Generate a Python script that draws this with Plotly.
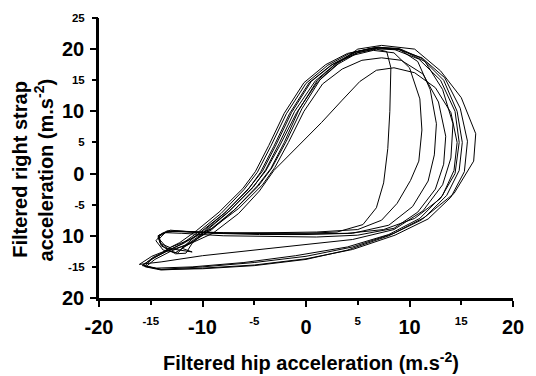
import plotly.graph_objects as go

# ---- data: ten successive cycles (hip acceleration x, strap acceleration y) ----
c1_x = [-13.0,-11.2,-9.1,-6.9,-4.7,-3.4,-2.1,-0.7,1.1,3.0,4.9,6.8,7.8,8.2,8.1,7.9,7.5,6.8,5.5,3.0,0.0,-4.0,-8.0,-11.5,-13.4,-14.3,-14.0,-13.2]
c1_y = [-11.8,-10.6,-8.8,-5.8,-2.0,0.8,5.0,10.2,15.0,17.8,19.4,20.0,19.6,17.0,10.0,4.0,-1.5,-5.5,-8.2,-9.4,-9.6,-9.6,-9.5,-9.3,-9.3,-10.2,-11.4,-12.4]
c2_x = [-12.4,-11.6,-10.2,-7.9,-5.6,-4.4,-3.1,-1.6,0.3,2.4,4.5,6.5,8.5,10.0,11.0,11.2,10.9,10.1,8.8,7.3,5.0,1.0,-3.0,-7.0,-11.0,-13.1,-14.2,-14.0,-12.6]
c2_y = [-12.8,-11.4,-9.4,-6.4,-2.6,0.2,4.4,9.6,14.6,17.4,19.0,19.8,19.4,17.0,12.0,7.0,2.0,-1.1,-4.8,-7.5,-9.0,-9.4,-9.5,-9.6,-9.4,-9.1,-9.9,-11.6,-12.9]
c3_x = [-11.6,-11.0,-9.6,-7.4,-5.1,-3.9,-2.6,-1.1,0.9,2.9,4.9,7.0,9.0,10.8,12.0,12.6,12.4,11.8,10.3,8.0,4.5,0.0,-4.5,-9.0,-12.5,-13.9,-14.5,-13.8]
c3_y = [-12.8,-11.2,-9.0,-6.0,-2.2,0.6,4.8,10.0,14.9,17.7,19.6,20.3,20.0,18.0,13.5,8.0,3.0,-1.2,-5.3,-8.3,-9.6,-9.8,-9.8,-9.6,-9.2,-9.6,-10.8,-12.3]
c4_x = [-12.6,-10.8,-8.9,-6.5,-4.2,-3.0,-1.7,-0.2,1.6,3.5,5.4,7.3,9.2,11.3,12.8,13.5,13.3,12.5,10.8,8.5,5.0,1.0,-3.5,-8.0,-12.0,-13.6,-14.2,-13.4,-11.0]
c4_y = [-12.7,-10.8,-8.6,-5.6,-1.8,1.0,5.0,10.0,14.4,16.8,18.2,18.6,18.2,16.0,11.5,6.0,1.5,-2.5,-6.2,-8.8,-9.9,-10.2,-10.1,-10.0,-9.6,-9.5,-10.5,-12.0,-12.6]
c5_x = [-12.0,-11.4,-9.7,-7.5,-5.2,-3.9,-2.5,-0.9,1.1,3.1,5.0,7.0,9.2,11.5,13.2,14.2,14.0,13.2,11.3,8.5,4.5,0.0,-5.0,-10.0,-14.0,-16.1,-14.9,-13.4]
c5_y = [-12.0,-11.3,-9.3,-6.2,-2.3,0.4,4.6,9.8,14.7,17.6,19.4,20.2,19.9,18.0,13.5,8.0,2.5,-1.8,-6.0,-9.0,-10.6,-11.4,-12.3,-13.2,-14.2,-14.6,-13.3,-12.3]
c6_x = [-13.4,-11.5,-9.0,-6.5,-4.5,-3.1,-1.0,1.5,3.5,5.2,6.8,8.5,10.5,12.5,14.0,14.6,14.3,13.2,11.0,8.0,4.0,-1.0,-6.0,-11.0,-14.5,-15.8,-14.6,-13.4]
c6_y = [-12.4,-11.5,-9.6,-6.4,-2.8,0.5,4.0,8.2,11.8,14.8,16.6,17.0,16.2,13.8,9.8,5.0,0.5,-3.5,-7.2,-9.8,-11.8,-13.2,-14.3,-15.0,-15.2,-14.7,-13.5,-12.4]
c7_x = [-13.4,-11.8,-9.9,-7.7,-5.5,-4.2,-2.9,-1.4,0.5,2.6,4.7,6.9,9.0,11.2,13.3,14.6,15.1,14.8,13.6,11.5,8.5,4.5,0.0,-5.0,-10.0,-14.0,-15.6,-14.8,-13.5]
c7_y = [-12.4,-11.2,-9.2,-6.1,-2.3,0.4,4.6,9.8,14.8,17.6,19.5,20.3,20.1,18.5,15.0,10.0,5.0,0.5,-3.5,-7.0,-9.6,-11.8,-13.3,-14.3,-15.0,-15.4,-14.9,-13.6,-12.5]
c8_x = [-13.5,-12.0,-10.4,-8.2,-6.0,-4.7,-3.4,-1.9,0.0,2.1,4.2,6.5,8.8,11.2,13.4,14.9,15.6,15.3,14.0,11.8,8.6,4.5,0.0,-5.0,-10.0,-14.0,-15.5,-14.6,-13.2]
c8_y = [-12.5,-11.3,-9.4,-6.4,-2.6,0.2,4.4,9.6,14.5,17.4,19.3,20.2,20.0,18.6,15.4,10.5,5.2,0.3,-3.8,-7.3,-9.9,-12.2,-13.7,-14.7,-15.2,-15.5,-15.0,-13.8,-12.6]
c9_x = [-13.2,-11.0,-9.1,-6.9,-4.6,-3.3,-1.9,-0.4,1.4,3.3,5.0,7.3,10.5,13.0,15.0,16.4,16.2,14.3,11.1,8.0,4.0,0.0,-5.0,-10.0,-14.0,-15.8,-14.8,-13.5]
c9_y = [-12.6,-11.0,-9.0,-5.8,-2.0,0.9,5.2,10.4,15.2,18.0,20.0,20.6,20.0,16.5,12.2,6.4,2.0,-3.2,-7.5,-10.0,-12.3,-13.8,-14.8,-15.3,-15.4,-14.8,-13.5,-12.4]
c10_x = [-13.5,-12.2,-10.6,-8.4,-6.1,-4.9,-3.6,-2.1,-0.2,1.9,4.0,6.2,8.6,10.9,13.0,14.4,14.8,14.4,13.0,10.5,7.5,4.0,0.0,-4.0,-8.0,-11.5,-13.4,-14.3,-14.1,-13.0]
c10_y = [-12.2,-11.1,-9.2,-6.2,-2.4,0.3,4.5,9.7,14.6,17.5,19.3,20.1,19.9,18.4,15.0,10.0,5.0,0.0,-4.0,-7.2,-9.0,-9.6,-9.7,-9.7,-9.6,-9.4,-9.2,-10.0,-11.2,-12.0]

x_major_vals = [-20, -10, 0, 10, 20]
x_major_text = ["-20", "-10", "0", "10", "20"]
x_minor_vals = [-15, -5, 5, 15]
x_minor_text = ["-15", "-5", "5", "15"]
y_major_vals = [20, 10, 0, -10, -20]
y_major_text = ["20", "10", "0", "10", "20"]
y_minor_vals = [25, 15, 5, -5, -15]
y_minor_text = ["25", "15", "5", "-5", "-15"]

cycles = [(c1_x, c1_y), (c2_x, c2_y), (c3_x, c3_y), (c4_x, c4_y), (c5_x, c5_y),
          (c6_x, c6_y), (c7_x, c7_y), (c8_x, c8_y), (c9_x, c9_y), (c10_x, c10_y)]

all_x, all_y = [], []
for cx, cy in cycles:
    all_x += cx
    all_y += cy

FONT = "Arial, Liberation Sans, sans-serif"
BIG = 20
SMALL = 11.5

fig = go.Figure()
fig.add_trace(go.Scatter(x=all_x, y=all_y, mode="lines",
                         line=dict(color="black", width=1), showlegend=False,
                         hoverinfo="skip"))
# invisible carrier so the overlaid minor-tick axes are drawn
fig.add_trace(go.Scatter(x=all_x, y=all_y, mode="lines", xaxis="x2", yaxis="y2",
                         line=dict(color="rgba(0,0,0,0)", width=0),
                         showlegend=False, hoverinfo="skip"))

def bold(lst):
    return ["<b>" + t + "</b>" for t in lst]

tick_common = dict(showgrid=False, zeroline=False, ticks="outside", ticklen=6,
                   tickwidth=2, tickcolor="black")

fig.update_layout(
    width=536, height=376,
    margin=dict(l=99, r=15, t=17, b=78),
    paper_bgcolor="white", plot_bgcolor="white",
    font=dict(family=FONT, color="black", size=BIG),
    xaxis=dict(range=[-20, 20], showline=True, linecolor="black", linewidth=2.5,
               tickvals=x_major_vals, ticktext=bold(x_major_text),
               ticklabelstandoff=3,
               tickfont=dict(size=BIG, family=FONT, color="black"), **tick_common),
    yaxis=dict(range=[-20, 25], showline=True, linecolor="black", linewidth=2.5,
               tickvals=y_major_vals, ticktext=bold(y_major_text),
               ticklabelstandoff=2,
               tickfont=dict(size=BIG, family=FONT, color="black"), **tick_common),
    xaxis2=dict(range=[-20, 20], overlaying="x", anchor="y", side="bottom",
                showline=False, tickvals=x_minor_vals, ticktext=bold(x_minor_text),
                ticklabelstandoff=6,
                tickfont=dict(size=SMALL, family=FONT, color="black"), **tick_common),
    yaxis2=dict(range=[-20, 25], overlaying="y", anchor="x", side="left",
                showline=False, tickvals=y_minor_vals, ticktext=bold(y_minor_text),
                ticklabelstandoff=5,
                tickfont=dict(size=SMALL, family=FONT, color="black"), **tick_common),
    annotations=[
        dict(text="<b>Filtered hip acceleration (m.s<sup>-2</sup>)</b>",
             xref="paper", yref="paper", x=0.513, y=-0.225,
             xanchor="center", yanchor="middle", showarrow=False,
             font=dict(size=BIG, family=FONT, color="black")),
        dict(text="<b>Filtered right strap</b>",
             xref="paper", yref="paper", x=-0.19, y=0.459,
             xanchor="center", yanchor="middle", showarrow=False, textangle=-90,
             font=dict(size=BIG, family=FONT, color="black")),
        dict(text="<b>acceleration (m.s<sup>-2</sup>)</b>",
             xref="paper", yref="paper", x=-0.133, y=0.459,
             xanchor="center", yanchor="middle", showarrow=False, textangle=-90,
             font=dict(size=BIG, family=FONT, color="black")),
    ],
)

fig.write_html("out.html")
